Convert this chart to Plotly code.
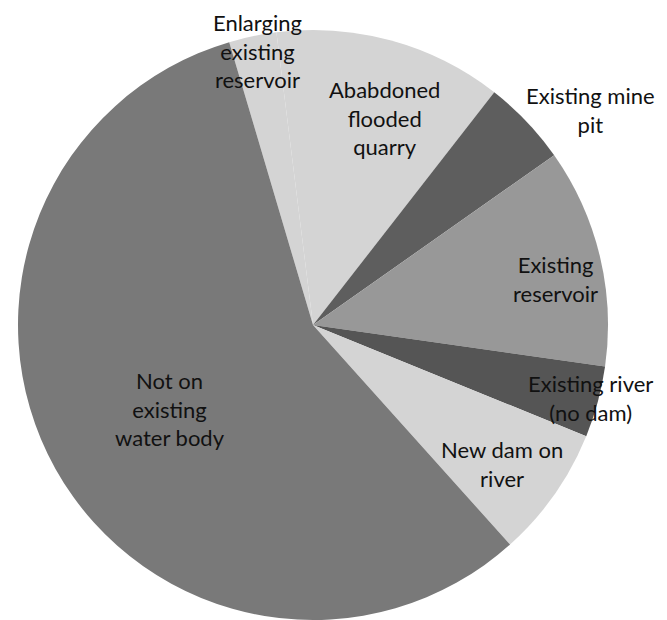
import plotly.graph_objects as go

W, H = 667, 620
OFF = 8  # browser body margin

categories = [
    "Enlarging<br>existing<br>reservoir",
    "Ababdoned<br>flooded<br>quarry",
    "Existing mine<br>pit",
    "Existing<br>reservoir",
    "Existing river<br>(no dam)",
    "New dam on<br>river",
    "Not on<br>existing<br>water body",
]
shares = [2.6, 12.5, 4.7, 12.0, 3.9, 7.2, 57.0]
slice_colors = ["#d4d4d4", "#d4d4d4", "#5e5e5e", "#989898", "#555555", "#d4d4d4", "#797979"]

# label centres in pixels
label_px = [(258, 51), (384, 118), (590, 110), (555, 279), (590, 398), (502, 464), (170, 409)]

cx, cy, r = 313 - OFF, 325 - OFF, 295

fig = go.Figure(go.Pie(
    labels=categories,
    values=shares,
    sort=False,
    direction="clockwise",
    rotation=-16.5,
    marker=dict(colors=slice_colors, line=dict(width=0)),
    textinfo="none",
    hoverinfo="label+percent",
    showlegend=False,
    domain=dict(x=[(cx - r) / W, (cx + r) / W], y=[1 - (cy + r) / H, 1 - (cy - r) / H]),
))

for lab, (px, py) in zip(categories, label_px):
    fig.add_annotation(
        x=(px - OFF) / W, y=1 - (py - OFF) / H, xref="paper", yref="paper",
        text=lab, showarrow=False, xanchor="center", yanchor="middle",
        font=dict(family="Lato", size=22, color="#111111"),
    )

fig.update_layout(
    width=W, height=H,
    margin=dict(l=0, r=0, t=0, b=0),
    paper_bgcolor="white", plot_bgcolor="white",
)

fig.write_html("out.html")
